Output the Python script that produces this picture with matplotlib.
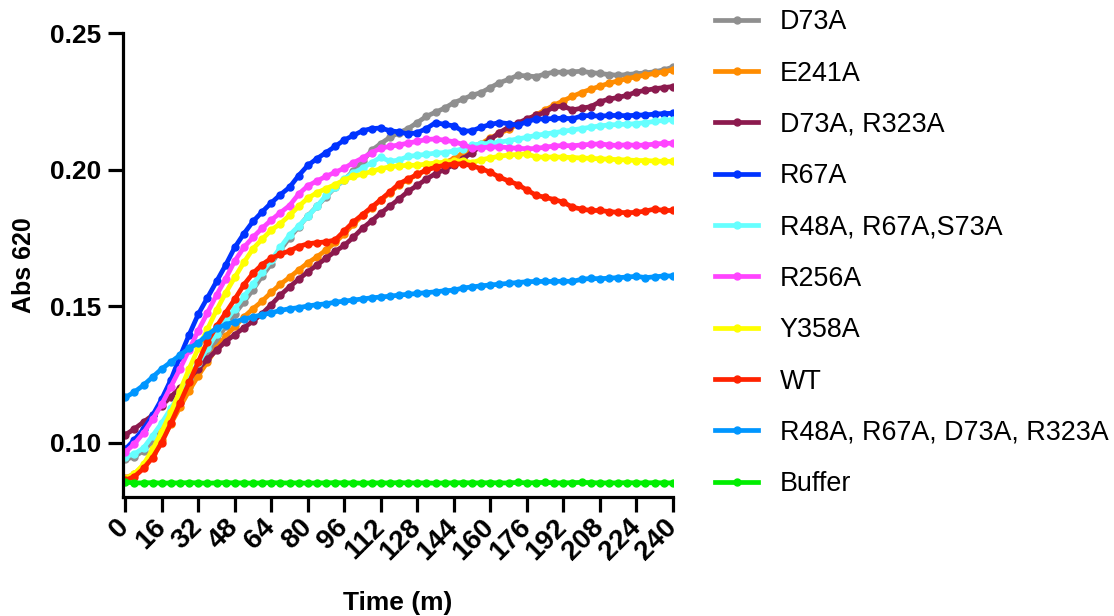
import matplotlib
matplotlib.use("Agg")
import matplotlib.pyplot as plt

plt.rcParams['font.family'] = ['Liberation Sans', 'DejaVu Sans']

# time points (minutes), readings every 4 min
time = list(range(0, 241, 4))

d73a = [0.0938, 0.0948, 0.0970, 0.1005, 0.1048, 0.1098, 0.1150, 0.1205, 0.1262, 0.1318,
        0.1375, 0.1425, 0.1472, 0.1515, 0.1560, 0.1610, 0.1655, 0.1705, 0.1750, 0.1790,
        0.1830, 0.1865, 0.1900, 0.1935, 0.1962, 0.1995, 0.2030, 0.2070, 0.2095, 0.2118,
        0.2135, 0.2150, 0.2172, 0.2195, 0.2210, 0.2225, 0.2245, 0.2258, 0.2272, 0.2282,
        0.2300, 0.2318, 0.2330, 0.2345, 0.2343, 0.2340, 0.2350, 0.2357, 0.2356, 0.2358,
        0.2360, 0.2355, 0.2352, 0.2348, 0.2345, 0.2348, 0.2351, 0.2354, 0.2358, 0.2365,
        0.2375]
e241a = [0.0870, 0.0885, 0.0915, 0.0960, 0.1010, 0.1068, 0.1130, 0.1190, 0.1245, 0.1295,
         0.1345, 0.1390, 0.1425, 0.1460, 0.1490, 0.1518, 0.1550, 0.1580, 0.1605, 0.1632,
         0.1658, 0.1680, 0.1705, 0.1733, 0.1765, 0.1800, 0.1832, 0.1860, 0.1888, 0.1915,
         0.1945, 0.1963, 0.1982, 0.1998, 0.2012, 0.2025, 0.2040, 0.2060, 0.2078, 0.2095,
         0.2115, 0.2132, 0.2148, 0.2165, 0.2182, 0.2200, 0.2218, 0.2236, 0.2252, 0.2268,
         0.2282, 0.2294, 0.2305, 0.2316, 0.2325, 0.2333, 0.2340, 0.2346, 0.2352, 0.2358,
         0.2365]
d73a_r323a = [0.1028, 0.1050, 0.1075, 0.1100, 0.1135, 0.1168, 0.1200, 0.1235, 0.1270, 0.1305,
              0.1338, 0.1370, 0.1395, 0.1420, 0.1445, 0.1472, 0.1505, 0.1540, 0.1570, 0.1598,
              0.1625, 0.1650, 0.1675, 0.1700, 0.1722, 0.1752, 0.1785, 0.1812, 0.1840, 0.1866,
              0.1892, 0.1920, 0.1942, 0.1965, 0.1985, 0.2000, 0.2018, 0.2040, 0.2062, 0.2088,
              0.2110, 0.2135, 0.2155, 0.2170, 0.2185, 0.2198, 0.2210, 0.2230, 0.2232, 0.2218,
              0.2225, 0.2230, 0.2248, 0.2258, 0.2264, 0.2272, 0.2284, 0.2290, 0.2296, 0.2300,
              0.2304]
r67a = [0.0975, 0.1010, 0.1050, 0.1100, 0.1160, 0.1230, 0.1315, 0.1395, 0.1470, 0.1530,
        0.1590, 0.1650, 0.1715, 0.1765, 0.1810, 0.1845, 0.1878, 0.1908, 0.1935, 0.1978,
        0.2015, 0.2040, 0.2062, 0.2085, 0.2108, 0.2125, 0.2142, 0.2150, 0.2152, 0.2142,
        0.2138, 0.2130, 0.2135, 0.2150, 0.2172, 0.2165, 0.2160, 0.2140, 0.2142, 0.2155,
        0.2165, 0.2172, 0.2168, 0.2162, 0.2175, 0.2185, 0.2185, 0.2187, 0.2188, 0.2186,
        0.2196, 0.2198, 0.2195, 0.2198, 0.2198, 0.2197, 0.2199, 0.2200, 0.2203, 0.2205,
        0.2206]
r48a_r67a_s73a = [0.0948, 0.0958, 0.0980, 0.1025, 0.1072, 0.1125, 0.1180, 0.1238, 0.1292, 0.1345,
                  0.1398, 0.1445, 0.1490, 0.1535, 0.1580, 0.1625, 0.1668, 0.1715, 0.1760, 0.1793,
                  0.1828, 0.1865, 0.1905, 0.1935, 0.1965, 0.1988, 0.2005, 0.2025, 0.2045, 0.2030,
                  0.2035, 0.2048, 0.2052, 0.2056, 0.2060, 0.2062, 0.2068, 0.2076, 0.2090, 0.2094,
                  0.2096, 0.2100, 0.2106, 0.2112, 0.2118, 0.2125, 0.2130, 0.2135, 0.2140, 0.2145,
                  0.2150, 0.2155, 0.2160, 0.2163, 0.2165, 0.2166, 0.2168, 0.2172, 0.2176, 0.2180,
                  0.2183]
r256a = [0.0965, 0.0995, 0.1035, 0.1085, 0.1140, 0.1205, 0.1270, 0.1340, 0.1410, 0.1475,
         0.1540, 0.1600, 0.1665, 0.1715, 0.1752, 0.1785, 0.1815, 0.1842, 0.1868, 0.1910,
         0.1940, 0.1958, 0.1975, 0.1990, 0.2005, 0.2025, 0.2042, 0.2062, 0.2078, 0.2085,
         0.2090, 0.2097, 0.2103, 0.2110, 0.2112, 0.2107, 0.2102, 0.2092, 0.2078, 0.2080,
         0.2082, 0.2083, 0.2080, 0.2078, 0.2076, 0.2077, 0.2082, 0.2086, 0.2088, 0.2087,
         0.2090, 0.2092, 0.2094, 0.2090, 0.2088, 0.2091, 0.2088, 0.2090, 0.2093, 0.2096,
         0.2096]
y358a = [0.0868, 0.0885, 0.0920, 0.0975, 0.1040, 0.1110, 0.1190, 0.1270, 0.1345, 0.1415,
         0.1485, 0.1548, 0.1605, 0.1660, 0.1710, 0.1745, 0.1778, 0.1802, 0.1832, 0.1865,
         0.1895, 0.1915, 0.1930, 0.1945, 0.1962, 0.1975, 0.1983, 0.1993, 0.2003, 0.2010,
         0.2014, 0.2015, 0.2016, 0.2020, 0.2024, 0.2027, 0.2030, 0.2033, 0.2025, 0.2036,
         0.2042, 0.2049, 0.2053, 0.2055, 0.2058, 0.2046, 0.2045, 0.2046, 0.2045, 0.2044,
         0.2042, 0.2041, 0.2039, 0.2038, 0.2036, 0.2035, 0.2033, 0.2033, 0.2031, 0.2030,
         0.2030]
wt = [0.0862, 0.0875, 0.0905, 0.0945, 0.1000, 0.1070, 0.1145, 0.1220, 0.1295, 0.1370,
      0.1425, 0.1475, 0.1525, 0.1578, 0.1620, 0.1652, 0.1675, 0.1690, 0.1702, 0.1718,
      0.1728, 0.1732, 0.1735, 0.1742, 0.1775, 0.1808, 0.1835, 0.1862, 0.1890, 0.1918,
      0.1948, 0.1965, 0.1982, 0.1998, 0.2008, 0.2016, 0.2020, 0.2021, 0.2014, 0.2003,
      0.1990, 0.1972, 0.1958, 0.1945, 0.1925, 0.1906, 0.1898, 0.1890, 0.1880, 0.1862,
      0.1855, 0.1850, 0.1850, 0.1846, 0.1843, 0.1842, 0.1843, 0.1848, 0.1855, 0.1850,
      0.1850]
quad = [0.1165, 0.1185, 0.1210, 0.1240, 0.1270, 0.1295, 0.1320, 0.1345, 0.1365, 0.1395,
        0.1418, 0.1432, 0.1442, 0.1452, 0.1460, 0.1468, 0.1475, 0.1484, 0.1490, 0.1494,
        0.1500, 0.1505, 0.1508, 0.1514, 0.1518, 0.1522, 0.1526, 0.1530, 0.1533, 0.1536,
        0.1540, 0.1543, 0.1546, 0.1549, 0.1552, 0.1556, 0.1558, 0.1566, 0.1570, 0.1574,
        0.1577, 0.1580, 0.1583, 0.1586, 0.1589, 0.1590, 0.1590, 0.1590, 0.1591, 0.1590,
        0.1598, 0.1601, 0.1600, 0.1602, 0.1604, 0.1606, 0.1609, 0.1604, 0.1607, 0.1610,
        0.1610]
buffer = [0.0855, 0.0852, 0.0852, 0.0853, 0.0851, 0.0852, 0.0852, 0.0853, 0.0852, 0.0851,
          0.0852, 0.0853, 0.0852, 0.0852, 0.0851, 0.0852, 0.0853, 0.0852, 0.0852, 0.0852,
          0.0851, 0.0852, 0.0852, 0.0853, 0.0852, 0.0852, 0.0851, 0.0852, 0.0852, 0.0852,
          0.0853, 0.0852, 0.0852, 0.0852, 0.0851, 0.0852, 0.0852, 0.0853, 0.0852, 0.0852,
          0.0853, 0.0852, 0.0852, 0.0854, 0.0852, 0.0853, 0.0854, 0.0852, 0.0852, 0.0853,
          0.0854, 0.0853, 0.0852, 0.0852, 0.0852, 0.0853, 0.0852, 0.0852, 0.0853, 0.0852,
          0.0852]

labels = ["D73A", "E241A", "D73A, R323A", "R67A", "R48A, R67A,S73A", "R256A",
          "Y358A", "WT", "R48A, R67A, D73A, R323A", "Buffer"]
series = [d73a, e241a, d73a_r323a, r67a, r48a_r67a_s73a, r256a, y358a, wt, quad, buffer]
colors = ["#8f8f8f", "#ff8c00", "#8c1a4e", "#0033ff", "#66ffff", "#ff44ff",
          "#ffff00", "#ff2200", "#0096ff", "#00ee00"]

fig = plt.figure(figsize=(11.14, 6.16), dpi=100)
ax = fig.add_axes([0.1104, 0.193, 0.4936, 0.7534])

for vals, lab, col in zip(series, labels, colors):
    ax.plot(time, vals, color=col, lw=3.4, marker='o', markersize=5, label=lab)

ax.set_xlim(-1, 240)
ax.set_ylim(0.08, 0.25)
ax.set_xticks(range(0, 241, 16))
ax.set_yticks([0.10, 0.15, 0.20, 0.25])
ax.set_yticklabels(["0.10", "0.15", "0.20", "0.25"])

for s in ['top', 'right']:
    ax.spines[s].set_visible(False)
for s in ['left', 'bottom']:
    ax.spines[s].set_linewidth(2.3)

ax.tick_params(axis='both', length=11, width=2.3, pad=5)
ax.tick_params(axis='y', labelsize=19)
ax.tick_params(axis='x', labelsize=20, pad=8)
for lbl in ax.get_yticklabels():
    lbl.set_fontweight('bold')
for lbl in ax.get_xticklabels():
    lbl.set_fontweight('bold')
    lbl.set_rotation(45)
    lbl.set_ha('right')
    lbl.set_va('center')
    lbl.set_rotation_mode('anchor')

ax.set_xlabel("Time (m)", fontsize=19, fontweight='bold', labelpad=18)
ax.set_ylabel("Abs 620", fontsize=18, fontweight='bold', labelpad=10)

ax.legend(loc='upper left', bbox_to_anchor=(0.642, 0.985), bbox_transform=fig.transFigure,
          frameon=False, fontsize=19.4, handlelength=1.6, handletextpad=0.8,
          labelspacing=0.94, borderpad=0, borderaxespad=0, numpoints=1)

fig.savefig("out.png", dpi=100)
